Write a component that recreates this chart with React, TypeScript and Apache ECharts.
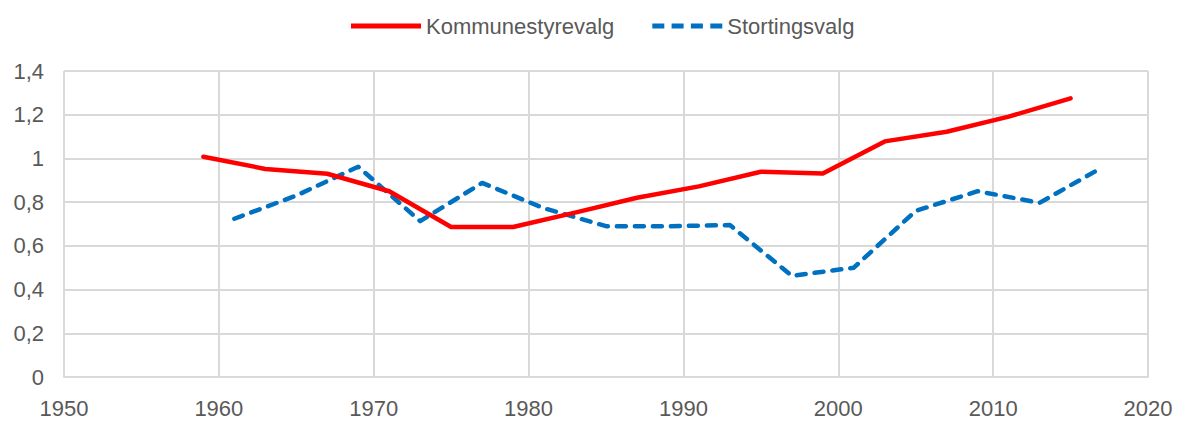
import React, { useEffect, useRef } from "react";
import * as echarts from "echarts";

const kommuneYears = [1959, 1963, 1967, 1971, 1975, 1979, 1983, 1987, 1991, 1995, 1999, 2003, 2007, 2011, 2015];
const kommuneValues = [1.008, 0.952, 0.93, 0.85, 0.686, 0.686, 0.752, 0.82, 0.872, 0.939, 0.931, 1.078, 1.122, 1.191, 1.275];

const stortingYears = [1961, 1965, 1969, 1973, 1977, 1981, 1985, 1989, 1993, 1997, 2001, 2005, 2009, 2013, 2017];
const stortingValues = [0.724, 0.83, 0.962, 0.713, 0.888, 0.772, 0.69, 0.69, 0.695, 0.463, 0.5, 0.76, 0.85, 0.797, 0.957];

const seriesNames = ["Kommunestyrevalg", "Stortingsvalg"];

const solidIcon = "path://M0,0H70V5H0Z";
const dashIcon =
  "path://M0,0H12V5H0Z M19.3,0H31.3V5H19.3Z M38.6,0H50.6V5H38.6Z M58,0H70V5H58Z";

export default function App() {
  const ref = useRef<HTMLDivElement>(null);
  useEffect(() => {
    if (!ref.current) return;
    const chart = echarts.init(ref.current, undefined, { renderer: "svg" });
    const font = "'Liberation Sans', Arial, sans-serif";
    chart.setOption({
      animation: false,
      backgroundColor: "#ffffff",
      textStyle: { fontFamily: font },
      legend: {
        top: 10,
        left: 346,
        itemWidth: 70,
        itemHeight: 5,
        itemGap: 38,
        textStyle: { color: "#595959", fontSize: 22, fontFamily: font },
        data: [
          { name: seriesNames[0], icon: solidIcon },
          { name: seriesNames[1], icon: dashIcon },
        ],
      },
      grid: { left: 64, right: 32, top: 71, bottom: 44, containLabel: false },
      xAxis: {
        type: "value",
        min: 1950,
        max: 2020,
        interval: 10,
        axisLine: { show: true, lineStyle: { color: "#d9d9d9", width: 2 } },
        axisTick: { show: false },
        axisLabel: {
          color: "#595959",
          fontSize: 22,
          fontFamily: font,
          margin: 20,
          formatter: (v: number) => String(v),
        },
        splitLine: { show: true, lineStyle: { color: "#d9d9d9", width: 2 } },
      },
      yAxis: {
        type: "value",
        min: 0,
        max: 1.4,
        interval: 0.2,
        axisLine: { show: false },
        axisTick: { show: false },
        axisLabel: {
          color: "#595959",
          fontSize: 22,
          fontFamily: font,
          margin: 20,
          formatter: (v: number) => String(Math.round(v * 10) / 10).replace(".", ","),
        },
        splitLine: { show: true, lineStyle: { color: "#d9d9d9", width: 2 } },
      },
      series: [
        {
          name: seriesNames[0],
          type: "line",
          symbol: "none",
          data: kommuneYears.map((y, i) => [y, kommuneValues[i]]),
          lineStyle: { color: "#ff0000", width: 4.5, cap: "round", join: "round" },
          itemStyle: { color: "#ff0000" },
          z: 3,
        },
        {
          name: seriesNames[1],
          type: "line",
          symbol: "none",
          data: stortingYears.map((y, i) => [y, stortingValues[i]]),
          lineStyle: { color: "#0070c0", width: 4.5, type: [9, 9], cap: "round", join: "round" },
          itemStyle: { color: "#0070c0" },
          z: 2,
        },
      ],
    });
    return () => chart.dispose();
  }, []);
  return (
    <div
      ref={ref}
      style={{ position: "fixed", left: 0, top: 0, width: 1180, height: 421 }}
    />
  );
}
